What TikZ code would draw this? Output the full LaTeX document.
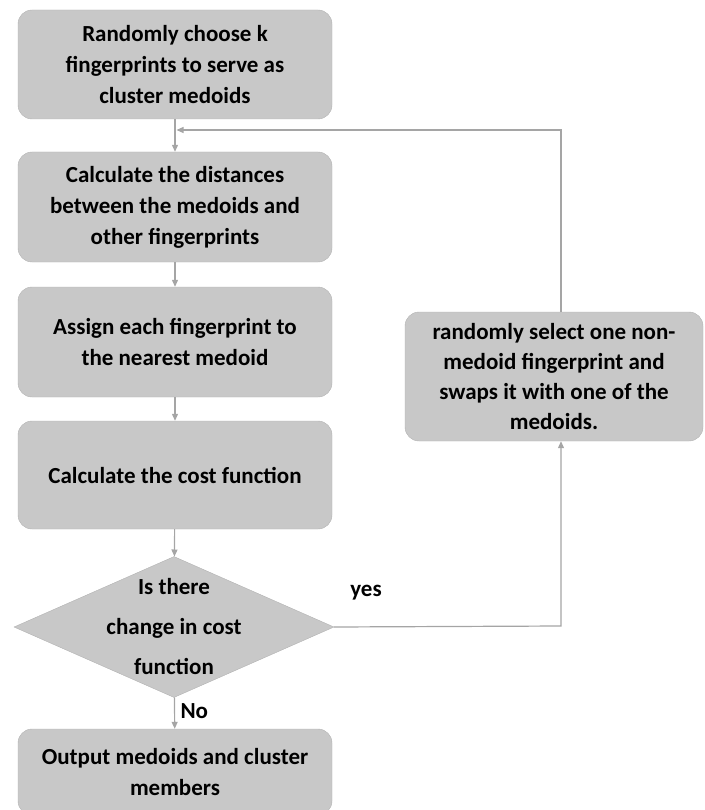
\documentclass[tikz,border=0pt]{standalone}
\usepackage{fontspec}
\setmainfont{Carlito}
\usetikzlibrary{shapes.geometric, arrows.meta}

\definecolor{boxfill}{RGB}{200,200,200}
\definecolor{boxline}{RGB}{178,178,178}
\definecolor{flowline}{RGB}{165,165,165}

\tikzset{
	box/.style={rectangle, rounded corners=14pt, fill=boxfill, draw=boxline, inner sep=0pt,
		minimum width=314pt, align=center, font=\fontsize{23}{31}\selectfont\bfseries},
	decision/.style={diamond, fill=boxfill, draw=boxline, inner sep=0pt, aspect=2.27,
		minimum width=320pt, minimum height=141pt},
	label/.style={align=center, font=\fontsize{23}{40}\selectfont\bfseries},
	flow/.style={draw=flowline, line width=1.2pt, arrows={-Triangle[length=7pt, width=6pt]}}
}

\begin{document}
\begin{tikzpicture}[x=1pt, y=-1pt]
	\clip (0,0) rectangle (704,810);
	\coordinate (rtop) at (561,130);
	\coordinate (rbot) at (561,626);

	\node [box, minimum height=109pt] (init) at (175,64.5) {Randomly choose k\\fingerprints to serve as\\cluster medoids};
	\node [box, minimum height=110pt] (dist) at (175,207) {Calculate the distances\\between the medoids and\\other fingerprints};
	\node [box, minimum height=110pt] (assign) at (175,342) {Assign each fingerprint to\\the nearest medoid};
	\node [box, minimum height=108pt] (cost) at (175,475) {Calculate the cost function};
	\node [decision] (dec) at (174,627) {};
	\node [label] (dectext) at (dec) {Is there\\change in cost\\function};
	\node [box, minimum height=86pt] (out) at (175,772) {Output medoids and cluster\\members};
	\node [box, minimum width=298pt, minimum height=129pt, font=\fontsize{23}{30}\selectfont\bfseries] (swap) at (554,376.5) {randomly select one non-\\medoid fingerprint and\\swaps it with one of the\\medoids.};

	\draw [flow] (init) -- (dist);
	\draw [flow] (dist) -- (assign);
	\draw [flow] (assign) -- (cost);
	\draw [flow] (cost) -- (dec);
	\draw [flow] (dec) -- (out) node [label, pos=0.45, right=2pt] (no) {No};
	\draw [flow] (dec.east) -- (rbot) -- (swap.south -| rbot);
	\draw [flow] (swap.north -| rtop) -- (rtop) -- ([xshift=1.5pt]init.south |- rtop);
	\node [label] (yes) at (366,593) {yes};
\end{tikzpicture}
\end{document}
